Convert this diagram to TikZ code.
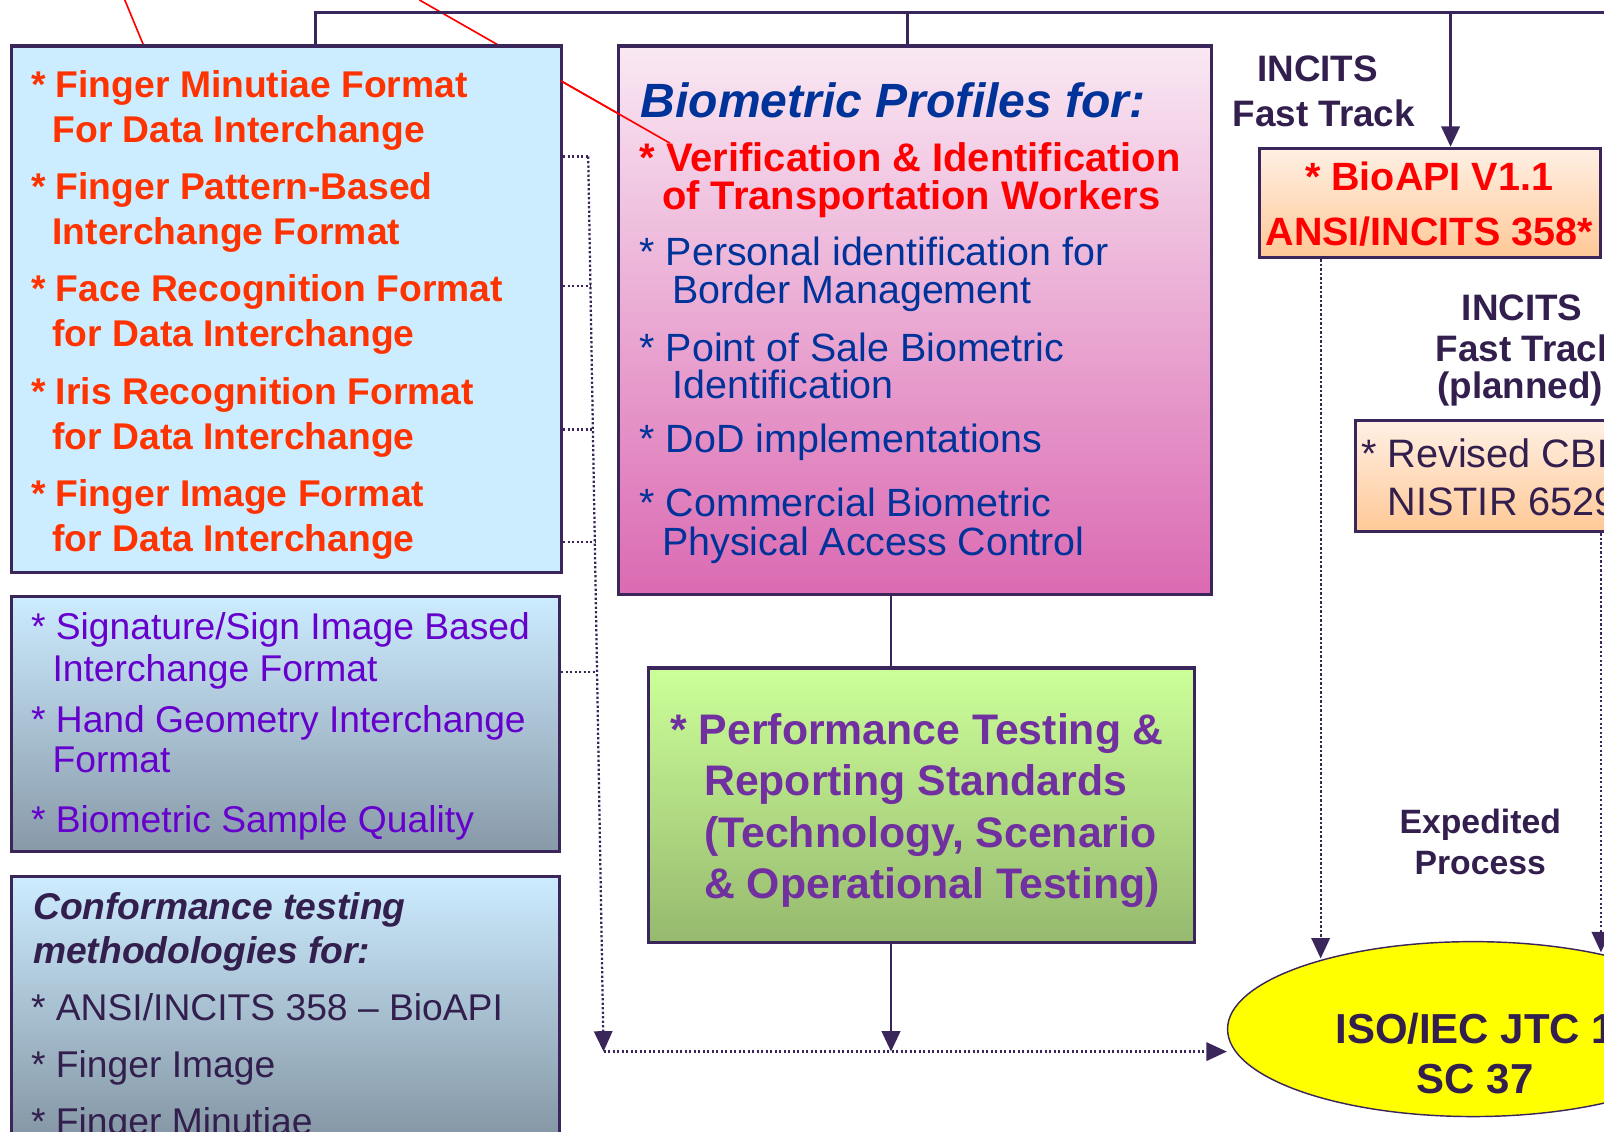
\documentclass[tikz,border=0pt]{standalone}
\usepackage{fontspec}
\setmainfont{Liberation Sans}
\usetikzlibrary{arrows.meta,fit,shapes.geometric,calc}
\pgfdeclarelayer{bg}
\pgfsetlayers{bg,main}
\definecolor{frame}{RGB}{58,38,90}
\definecolor{ink}{RGB}{51,31,77}
\definecolor{orng}{RGB}{255,51,0}
\definecolor{brred}{RGB}{255,0,0}
\definecolor{navy}{RGB}{0,51,153}
\definecolor{violet1}{RGB}{102,0,204}
\definecolor{plum}{RGB}{112,48,160}
\definecolor{skyb}{RGB}{204,236,255}
\definecolor{greyb}{RGB}{136,153,168}
\definecolor{pinkt}{RGB}{249,232,243}
\definecolor{pinkb}{RGB}{219,106,178}
\definecolor{limet}{RGB}{204,255,153}
\definecolor{limeb}{RGB}{150,185,110}
\definecolor{peacht}{RGB}{255,240,228}
\definecolor{peachb}{RGB}{255,200,150}
\definecolor{yel}{RGB}{255,255,0}
\begin{document}
\begin{tikzpicture}[x=0.5pt,y=-0.5pt,
  box/.style={draw=frame, line width=1.5pt, inner sep=0pt, rectangle},
  conn/.style={draw=frame, line width=1.4pt},
  dots/.style={draw=frame, line width=1.1pt, dash pattern=on 1.1pt off 1.1pt},
  tip/.style={-{Triangle[length=10pt,width=9pt]}},
  redln/.style={draw=brred, line width=0.8pt},
  ln/.style={inner sep=0pt, anchor=base west},
  lnc/.style={inner sep=0pt, anchor=base},
  fA/.style={font=\fontsize{18.2}{22}\selectfont\bfseries, text=orng},
  fB/.style={font=\fontsize{18.2}{22}\selectfont, text=violet1},
  fC/.style={font=\fontsize{18.2}{22}\selectfont\bfseries\itshape, text=ink},
  fD/.style={font=\fontsize{18.2}{22}\selectfont, text=ink},
  fE/.style={font=\fontsize{23.5}{28}\selectfont\bfseries\itshape, text=navy},
  fF/.style={font=\fontsize{19.5}{23}\selectfont\bfseries, text=brred},
  fG/.style={font=\fontsize{19.25}{23}\selectfont, text=navy},
  fH/.style={font=\fontsize{20.9}{25}\selectfont\bfseries, text=plum},
  fI/.style={font=\fontsize{19.3}{23}\selectfont\bfseries, text=brred},
  fJ/.style={font=\fontsize{19.4}{23}\selectfont, text=ink},
  fK/.style={font=\fontsize{18}{22}\selectfont\bfseries, text=ink},
  fL/.style={font=\fontsize{16.5}{20}\selectfont\bfseries, text=ink},
  fM/.style={font=\fontsize{20.5}{25}\selectfont\bfseries, text=ink}
]
\useasboundingbox (0,0) rectangle (1568,1106);

% ---------- boxes ----------
\node[box, fill=skyb, fit={(11,45) (549,560)}] (b1) {};
\node[box, top color=skyb, bottom color=greyb, fit={(11,583) (547,832)}] (b2) {};
\node[box, top color=skyb, bottom color=greyb!90!black, fit={(11,857) (547,1150)}] (b3) {};
\node[box, top color=pinkt, bottom color=pinkb, fit={(605,45) (1184,581)}] (b4) {};
\node[box, top color=limet, bottom color=limeb, fit={(634,653) (1168,921)}] (b5) {};
\node[box, top color=peacht, bottom color=peachb, fit={(1231,145) (1565,252)}] (b6) {};
\node[box, top color=peacht, bottom color=peachb, fit={(1325,411) (1720,520)}] (b7) {};
\node[ellipse, draw=frame, line width=0.7pt, fill=yel, inner sep=0pt,
      minimum width=240pt, minimum height=85.5pt] (iso) at (1440,1006) {};

% ---------- red lines (pass behind box 1, over box 4) ----------
\coordinate (rs1) at (122,0);
\coordinate (rx1) at (140,0);
\coordinate (rs2) at (410,0);
\coordinate (re2) at (655,140);
\begin{pgfonlayer}{bg}
\draw[redln] (rs1) -- (b1.north -| rx1);
\draw[redln] (rs2) -- (re2);
\end{pgfonlayer}
\draw[redln] ($(rs2)!0.565!(re2)$) -- (re2);

% ---------- top connectors ----------
\coordinate (t1) at (308,12);
\coordinate (t2) at (887,12);
\coordinate (t3) at (1418,12);
\coordinate (tend) at (1620,12);
\draw[conn] (b1.north -| t1) -- (t1) -- (tend);
\draw[conn] (t2) -- (b4.north -| t2);
\draw[conn, tip] (t3) -- (b6.north -| t3);

% ---------- dotted bus on the left ----------
\coordinate (v1) at (575,153);
\coordinate (v2) at (590,1028);
\coordinate (p2) at ($(v1)!0.145!(v2)$);
\coordinate (p3) at ($(v1)!0.305!(v2)$);
\coordinate (p4) at ($(v1)!0.431!(v2)$);
\coordinate (p5) at ($(v1)!0.576!(v2)$);
\draw[dots] (b1.east |- v1) -- (v1);
\draw[dots] (b1.east |- p2) -- (p2);
\draw[dots] (b1.east |- p3) -- (p3);
\draw[dots] (b1.east |- p4) -- (p4);
\draw[dots] (b2.east |- p5) -- (p5);
\draw[dots, tip] (v1) -- (v2);
\draw[dots, tip] (v2) -- (iso.west |- v2);

% ---------- centre column ----------
\coordinate (c) at (871,0);
\draw[conn] (b4.south -| c) -- (b5.north -| c);
\draw[conn, tip] (b5.south -| c) -- (c |- v2);

% ---------- right dotted arrows ----------
\coordinate (d6) at (1291,0);
\coordinate (e6) at (1291,937);
\draw[dots, tip] (b6.south -| d6) -- (e6);
\coordinate (d7) at (1565,0);
\coordinate (e7) at (1565,931);
\draw[dots, tip] (b7.south -| d7) -- (e7);

% ---------- box 1 text ----------
\node[ln,fA] (a1) at (30,95) {* Finger Minutiae Format};
\node[ln,fA] (a2) at (51,139) {For Data Interchange};
\node[ln,fA] (a3) at (30,195) {* Finger Pattern-Based};
\node[ln,fA] (a4) at (51,239) {Interchange Format};
\node[ln,fA] (a5) at (30,295) {* Face Recognition Format};
\node[ln,fA] (a6) at (51,339) {for Data Interchange};
\node[ln,fA] (a7) at (30,395) {* Iris Recognition Format};
\node[ln,fA] (a8) at (51,439) {for Data Interchange};
\node[ln,fA] (a9) at (30,495) {* Finger Image Format};
\node[ln,fA] (a10) at (51,539) {for Data Interchange};

% ---------- box 2 text ----------
\node[ln,fB] (g1) at (30,625) {* Signature/Sign Image Based};
\node[ln,fB] (g2) at (51,666) {Interchange Format};
\node[ln,fB] (g3) at (30,716) {* Hand Geometry Interchange};
\node[ln,fB] (g4) at (51,755) {Format};
\node[ln,fB] (g5) at (30,814) {* Biometric Sample Quality};

% ---------- box 3 text ----------
\node[ln,fC] (h1) at (32,899) {Conformance testing};
\node[ln,fC] (h2) at (32,942) {methodologies for:};
\node[ln,fD] (h3) at (30,998) {* ANSI/INCITS 358 – BioAPI};
\node[ln,fD] (h4) at (30,1053) {* Finger Image};
\node[ln,fD] (h5) at (30,1109) {* Finger Minutiae};

% ---------- box 4 text ----------
\node[ln,fE] (k0) at (626,115) {Biometric Profiles for:};
\node[ln,fF] (k1) at (625,168) {* Verification \& Identification};
\node[ln,fF] (k2) at (647,205) {of Transportation Workers};
\node[ln,fG] (k3) at (625,260) {* Personal identification for};
\node[ln,fG] (k4) at (657,297) {Border Management};
\node[ln,fG] (k5) at (625,353) {* Point of Sale Biometric};
\node[ln,fG] (k6) at (657,390) {Identification};
\node[ln,fG] (k7) at (625,442) {* DoD implementations};
\node[ln,fG] (k8) at (625,505) {* Commercial Biometric};
\node[ln,fG] (k9) at (647,543) {Physical Access Control};

% ---------- box 5 text ----------
\node[ln,fH] (m1) at (655,728) {* Performance Testing \&};
\node[ln,fH] (m2) at (688,778) {Reporting Standards};
\node[ln,fH] (m3) at (688,828) {(Technology, Scenario};
\node[ln,fH] (m4) at (688,878) {\& Operational Testing)};

% ---------- box 6 / box 7 text ----------
\node[lnc,fI] (n1) at (1397,186) {* BioAPI V1.1};
\node[lnc,fI] (n2) at (1397,240) {ANSI/INCITS 358*};
\node[ln,fJ] (q1) at (1331,457) {*};
\node[ln,fJ] (q2) at (1356,457) {Revised CBEFF};
\node[ln,fJ] (q3) at (1356,504) {NISTIR 6529-A};

% ---------- labels ----------
\node[lnc,fK] (l1) at (1288,80) {INCITS};
\node[lnc,fK] (l2) at (1294,124) {Fast Track};
\node[lnc,fK] (l3) at (1488,313) {INCITS};
\node[ln,fK] (l4) at (1403,353) {Fast Track};
\node[lnc,fK] (l5) at (1486,390) {(planned)};
\node[lnc,fL] (l6) at (1447,815) {Expedited};
\node[lnc,fL] (l7) at (1447,855) {Process};

% ---------- ellipse text ----------
\node[ln,fM] (s1) at (1305,1020) {ISO/IEC JTC 1};
\node[lnc,fM] (s2) at (1442,1069) {SC 37};
\end{tikzpicture}
\end{document}
